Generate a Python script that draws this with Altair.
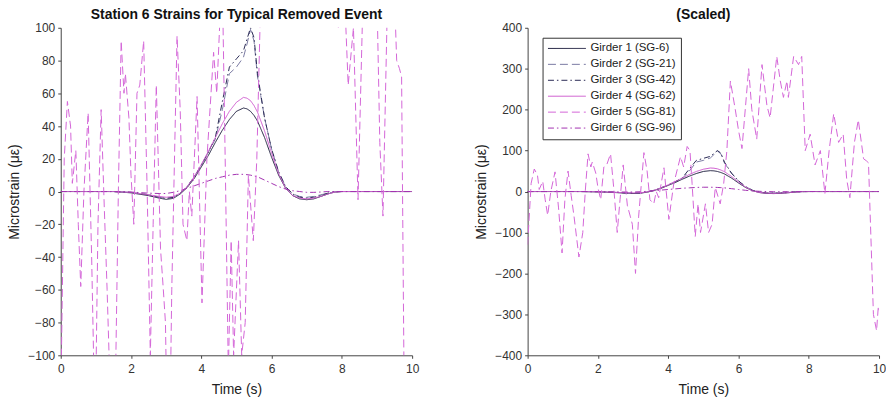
import altair as alt
import pandas as pd

# ---------------- data ----------------
names = ["Girder 1 (SG-6)", "Girder 2 (SG-21)", "Girder 3 (SG-42)",
         "Girder 4 (SG-62)", "Girder 5 (SG-81)", "Girder 6 (SG-96)"]

t_smooth = [0, 0.5, 1, 1.5, 2, 2.5, 2.8, 3.0, 3.2, 3.4, 3.6, 3.8, 4.0, 4.2, 4.4, 4.6,
            4.8, 5.0, 5.2, 5.3, 5.4, 5.5, 5.6, 5.8, 6.0, 6.2, 6.4, 6.6, 6.8, 7.0, 7.2,
            7.4, 7.6, 7.8, 8.0, 9.0, 10.0]

g1 = [0, 0, 0, 0, -0.8, -2.5, -4, -4.8, -4.2, -1.5, 2.5, 8, 15, 22, 30, 37.5, 44, 49,
      51, 50.5, 49, 46.5, 43, 33, 21, 10, 2, -2.5, -4.5, -5, -4.5, -3, -1.5, -0.3, 0, 0, 0]
g2 = [0, 0, 0, 0, -0.5, -2, -3.5, -4, -3.5, -1, 3, 9, 16, 24, 32, 50, 72, 76, 82, 90,
      99, 92, 70, 45, 26, 12, 3, -1.5, -3, -3.5, -3, -2, -1, -0.2, 0, 0, 0]
g3 = [0, 0, 0, 0, -0.5, -2, -3.5, -4.2, -3.6, -1, 3, 9, 16, 24, 33, 55, 76, 81, 86, 93,
      100, 94, 72, 45, 26, 12, 3, -1.5, -3.5, -4, -3.5, -2.5, -1, -0.2, 0, 0, 0]
g4 = [0, 0, 0, 0, -0.5, -2, -3, -3.5, -3, -1, 3, 9, 16.5, 24.5, 33, 41.5, 49, 54.5,
      57.5, 57, 55.5, 52.5, 48.5, 37, 23.5, 11, 2, -2.5, -4, -4.5, -4, -3, -1.5, -0.3, 0, 0, 0]
g6 = [0, 0, 0, 0, -0.3, -1, -1.2, -1.2, -0.5, 0.5, 2, 3.5, 5, 6.5, 8, 9, 10, 10.5,
      10.5, 10.3, 10, 9.5, 9, 7, 5, 3, 1.5, 0.5, 0, -0.5, -0.5, -0.3, 0, 0, 0, 0, 0]

t_g5 = [0.00, 0.10, 0.19, 0.28, 0.33, 0.43, 0.50, 0.57, 0.66, 0.78, 0.88, 0.98, 1.06,
        1.15, 1.24, 1.32, 1.46, 1.57, 1.64, 1.72, 1.80, 1.84, 1.94, 2.00, 2.08, 2.17,
        2.25, 2.36, 2.46, 2.55, 2.63, 2.72, 2.84, 2.92, 2.98, 3.07, 3.16, 3.31, 3.40,
        3.48, 3.59, 3.66, 3.73, 3.88, 4.02, 4.16, 4.35, 4.44, 4.54, 4.62, 4.68, 4.77,
        4.85, 4.92, 5.06, 5.15, 5.25, 5.34, 5.48, 5.58, 5.67, 5.77, 5.91, 6.00, 6.10,
        6.29, 6.38, 6.52, 6.67, 6.81, 6.90, 7.09, 7.19, 7.28, 7.38, 7.42, 7.57, 7.71,
        7.80, 7.90, 8.04, 8.18, 8.33, 8.46, 8.58, 8.71, 8.85, 8.98, 9.08, 9.17, 9.30,
        9.41, 9.56, 9.64, 9.70, 9.84, 9.93, 9.98, 10.0]
g5 = [-130, 20, 55, 40, 5, 25, -20, -58, 0, 48, -40, -150, -20,
      50, -10, -60, -160, -100, 0, 92, 60, 72, 45, 10, -20, 60,
      65, 92, 0, -100, -20, 65, -35, -60, -80, -200, -60, 95, 50,
      -20, -30, 0, -15, 58, -68, 20, 85, 60, 110, 100, 20, -110,
      -30, -100, -30, -100, -80, 10, -30, 20, 100, 270, 200, 150, 105,
      300, 200, 128, 310, 210, 180, 330, 270, 230, 270, 230, 330, 310,
      330, 100, 140, 65, 100, -5, 100, 190, 120, 140, 30, -15, 120,
      175, 80, 75, 70, -300, -340, -280, -290]

colors = ["#1f1f40", "#7a7aa2", "#2a2a55", "#cf5ccf", "#d466d8", "#a232b0"]
dashes = [[1, 0], [8, 4], [6, 3, 1.5, 3], [1, 0], [8, 4], [6, 3, 1.5, 3]]

rows = []
for name, vals in zip([names[0], names[1], names[2], names[3], names[5]], [g1, g2, g3, g4, g6]):
    for t, v in zip(t_smooth, vals):
        rows.append({"t": t, "v": v, "g": name})
for t, v in zip(t_g5, g5):
    rows.append({"t": t, "v": v, "g": names[4]})
df = pd.DataFrame(rows)

FONT = "Liberation Sans"


def panel(ydom, yvals, title, show_legend):
    if show_legend:
        leg = alt.Legend(title=None, orient="none", legendX=15, legendY=10,
                         symbolType="M-5,0H5", symbolSize=57.76, symbolStrokeWidth=1,
                         symbolOffset=13.7,
                         strokeColor="#333333", fillColor="white", padding=5,
                         labelFontSize=11.5, labelFont=FONT, labelColor="#222222",
                         labelOffset=17.9, rowPadding=3)
    else:
        leg = None
    return alt.Chart(df).mark_line(clip=True, strokeWidth=1).encode(
        x=alt.X("t:Q", scale=alt.Scale(domain=[0, 10], nice=False),
                axis=alt.Axis(values=list(range(0, 11, 2)), title="Time (s)",
                              labelFlush=False, labelPadding=5, titlePadding=8)),
        y=alt.Y("v:Q", scale=alt.Scale(domain=ydom, nice=False),
                axis=alt.Axis(values=yvals, title="Microstrain (με)", labelFlush=False,
                              titlePadding=6)),
        color=alt.Color("g:N", scale=alt.Scale(domain=names, range=colors), legend=leg),
        strokeDash=alt.StrokeDash("g:N", scale=alt.Scale(domain=names, range=dashes), legend=leg),
        order=alt.Order("t:Q"),
    ).properties(width=353, height=329,
                 title=alt.TitleParams(title, fontSize=14, fontWeight="bold", font=FONT,
                                       color="#111111", anchor="middle", offset=0))


left = panel([-100, 100], list(range(-100, 101, 20)),
             "Station 6 Strains for Typical Removed Event", False)
right = panel([-400, 400], list(range(-400, 401, 100)), "(Scaled)", True)

chart = alt.hconcat(left, right, spacing=55).resolve_scale(
    color="independent", strokeDash="independent"
).properties(
    padding={"left": 7, "top": 7, "right": 0, "bottom": 0},
    background="white",
).configure_view(stroke=None).configure_axis(
    grid=False, domainColor="#444444", tickColor="#444444", tickSize=3,
    labelFont=FONT, labelFontSize=12, labelColor="#333333", labelPadding=3,
    titleFont=FONT, titleFontSize=14, titleFontWeight="normal", titleColor="#222222",
    titlePadding=3,
)

chart.save("out.html", embed_options={"renderer": "svg", "actions": False})
